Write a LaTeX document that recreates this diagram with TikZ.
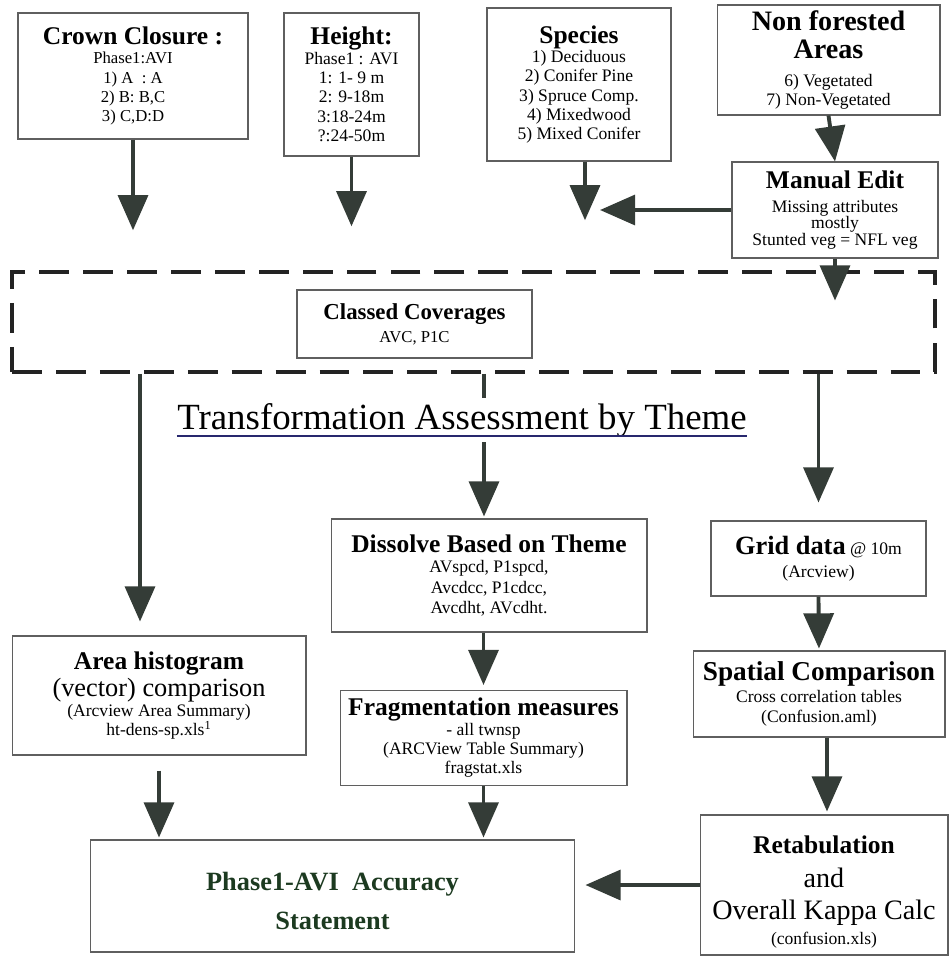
\documentclass[tikz,border=0pt]{standalone}
\usepackage{fontspec}
\setmainfont{Liberation Serif}
\usetikzlibrary{arrows.meta}

\definecolor{arrowgray}{RGB}{52,60,55}
\definecolor{boxgray}{RGB}{95,95,95}
\definecolor{dashgray}{RGB}{35,35,35}
\definecolor{phasegreen}{RGB}{28,58,32}
\definecolor{linenavy}{RGB}{40,40,110}

\newcommand{\boxttl}[1]{{\fontsize{14.5}{17}\selectfont\bfseries #1}}

\tikzset{
  box/.style={draw=boxgray, line width=0.6pt, fill=white, align=center, inner sep=2pt},
  flow/.style={-{Triangle[width=17pt,length=20pt]}, line width=2.2pt, draw=arrowgray},
  groupbox/.style={draw=dashgray, line width=2pt, dash pattern=on 17pt off 8pt}
}

\begin{document}
\begin{tikzpicture}[x=0.02cm, y=-0.02cm]
\useasboundingbox (0,0) rectangle (948,961);

\node[box, minimum width=4.6cm, minimum height=2.52cm, font=\fontsize{9.5}{11}\selectfont] (crown) at (133,76)
  {\boxttl{Crown Closure :}\\ Phase1:AVI\\ 1) A \ : A\\ 2) B: B,C\\ 3) C,D:D};
\node[box, minimum width=2.7cm, minimum height=2.86cm, font=\fontsize{10}{11}\selectfont] (height) at (351.5,84.5)
  {\boxttl{Height:}\\ Phase1 : AVI\\ 1: 1- 9 m\\ 2: 9-18m\\ 3:18-24m\\ ?:24-50m};
\node[box, minimum width=3.68cm, minimum height=3.06cm, font=\fontsize{10}{11}\selectfont] (species) at (579,84.5)
  {\boxttl{Species}\\ 1) Deciduous\\ 2) Conifer Pine\\ 3) Spruce Comp.\\ 4) Mixedwood\\ 5) Mixed Conifer};
\node[box, minimum width=4.46cm, minimum height=2.2cm, font=\fontsize{10}{11}\selectfont] (nonforest) at (828.5,60)
  {{\fontsize{16}{17}\selectfont\bfseries Non forested}\\[5pt] {\fontsize{16}{17}\selectfont\bfseries Areas}\\[5pt] 6) Vegetated\\ 7) Non-Vegetated};
\node[box, minimum width=4.12cm, minimum height=1.92cm, font=\fontsize{10}{9.5}\selectfont] (manual) at (835,210)
  {\boxttl{Manual Edit}\\[4pt] Missing attributes\\ mostly\\ Stunted veg = NFL veg};

\node[groupbox, minimum width=18.46cm, minimum height=2cm] (group) at (473.5,322) {};
\node[box, minimum width=4.7cm, minimum height=1.36cm, font=\fontsize{9.5}{11}\selectfont] (classed) at (414.5,324)
  {{\fontsize{13}{15}\selectfont\bfseries Classed Coverages}\\[2pt] AVC, P1C};

\node[box, minimum width=6.32cm, minimum height=2.26cm, font=\fontsize{10}{11.5}\selectfont] (dissolve) at (489,575.5)
  {\boxttl{Dissolve Based on Theme}\\ AVspcd, P1spcd,\\ Avcdcc, P1cdcc,\\ Avcdht, AVcdht.};
\node[box, minimum width=5.88cm, minimum height=2.38cm, font=\fontsize{10}{11}\selectfont] (area) at (159,695.5)
  {\boxttl{Area histogram}\\[1pt] {\fontsize{15}{17}\selectfont (vector) comparison}\\ (Arcview Area Summary)\\ ht-dens-sp.xls\textsuperscript{1}};
\node[box, minimum width=5.74cm, minimum height=1.9cm, font=\fontsize{10}{11}\selectfont] (frag) at (483.5,738)
  {\boxttl{Fragmentation measures}\\ - all twnsp\\ (ARCView Table Summary)\\ fragstat.xls};
\node[box, minimum width=4.3cm, minimum height=1.5cm, font=\fontsize{10}{11}\selectfont] (grid) at (818.5,558.5)
  {{\fontsize{15}{17}\selectfont\bfseries Grid data} @ 10m\\[2pt] (Arcview)};
\node[box, minimum width=5.04cm, minimum height=1.72cm, font=\fontsize{10}{11}\selectfont] (spatial) at (819,694)
  {{\fontsize{15.5}{17}\selectfont\bfseries Spatial Comparison}\\[1.5pt] Cross correlation tables\\[0.5pt] (Confusion.aml)};
\node[box, minimum width=4.96cm, minimum height=2.8cm, font=\fontsize{10}{11}\selectfont] (retab) at (824,885)
  {\rule{0pt}{18pt}\boxttl{Retabulation}\\[7pt] {\fontsize{16}{18}\selectfont and}\\[6pt] {\fontsize{16}{18}\selectfont Overall Kappa Calc}\\[3pt] (confusion.xls)};
\node[box, minimum width=9.7cm, minimum height=2.24cm, text=phasegreen, font=\fontsize{15}{22.5}\selectfont\bfseries] (phase) at (332.5,896)
  {\rule{0pt}{16pt}Phase1-AVI\ \ Accuracy\\ Statement};

\draw[flow] (crown.south) -- ([yshift=0.8cm]crown.south |- group.north);
\draw[flow] (height.south) -- ([yshift=0.88cm]height.south |- group.north);
\draw[flow] ([xshift=0.12cm]species.south) -- ([xshift=0.12cm,yshift=1cm]species.south |- group.north);
\draw[flow] (nonforest.south) -- (manual.north);
\draw[flow] (manual.west) -- ([xshift=0.42cm]species.south |- manual.west);
\draw[flow] (manual.south) -- ([yshift=-0.84cm]manual.south);

\draw[flow, shorten >=0.28cm] ([xshift=-0.38cm]area.north |- group.south) -- ([xshift=-0.38cm]area.north);
\draw[flow, shorten >=0.04cm] ([xshift=-0.1cm]dissolve.north |- group.south) -- ([xshift=-0.1cm]dissolve.north);
\draw[flow, shorten >=0.36cm] (grid.north |- group.south) -- (grid.north);

\draw[flow, shorten >=0.1cm] (frag.north |- dissolve.south) -- (frag.north);
\draw[flow, shorten <=0.3cm, shorten >=0.04cm] (area.south) -- (area.south |- phase.north);
\draw[flow, shorten >=0.04cm] (frag.south) -- (frag.south |- phase.north);
\draw[flow, shorten >=0.04cm] (grid.south) -- (spatial.north);
\draw[flow, shorten >=0.06cm] ([xshift=0.06cm]retab.north |- spatial.south) -- ([xshift=0.06cm]retab.north);
\draw[flow, shorten >=0.2cm] (retab.west) -- (retab.west -| phase.east);

\node[fill=white, inner sep=3pt, font=\fontsize{21}{24}\selectfont] (theme) at (462,420) {Transformation Assessment by Theme};
\draw[linenavy, line width=0.8pt] ([xshift=3pt,yshift=-4pt]theme.base west) -- ([xshift=-3pt,yshift=-4pt]theme.base east);
\end{tikzpicture}
\end{document}
